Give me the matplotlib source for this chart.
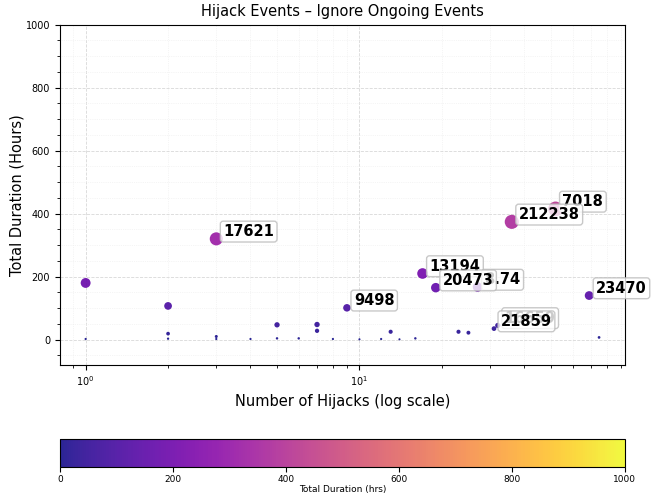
import numpy as np
import matplotlib
matplotlib.use("Agg")
import matplotlib.pyplot as plt

# hijack count per prefix and total hijack duration (hours)
n_hijacks = [1, 1, 2, 2, 2, 3, 3, 3, 4, 5, 5, 6, 7, 7, 8, 9, 10, 12, 13,
             14, 16, 17, 19, 23, 25, 27, 31, 32, 36, 52, 69, 75]
duration = [180, 2, 107, 19, 3, 320, 10, 2, 2, 47, 4, 4, 48, 28, 2, 101, 1,
            2, 25, 1, 4, 210, 165, 25, 22, 167, 35, 45, 374, 415, 140, 7]

# labelled points (drawn in this order, later ones on top)
label_x = [3, 9, 17, 27, 19, 52, 36, 32, 31, 69]
label_y = [320, 101, 210, 167, 165, 415, 374, 45, 35, 140]
label_txt = ["17621", "9498", "13194", "8.74", "20473", "7018", "212238",
             "16659", "21859", "23470"]

fig = plt.figure(figsize=(6.59, 4.95), dpi=100)
ax = fig.add_axes([0.091, 0.263, 0.857, 0.687])
cax = fig.add_axes([0.091, 0.0566, 0.857, 0.0566])

sizes = np.array(duration) * 0.27 + 2
sc = ax.scatter(n_hijacks, duration, c=duration, cmap="plasma",
                vmin=0, vmax=1000, s=sizes, alpha=0.88, linewidths=0,
                zorder=3)

for x, y, t in zip(label_x, label_y, label_txt):
    ax.annotate(t, (x, y), xytext=(5, 2), textcoords="offset points",
                fontsize=10.5, fontweight="bold", zorder=5,
                bbox=dict(boxstyle="round,pad=0.2", fc="white",
                          ec="#bbbbbb", alpha=0.8))

ax.set_xscale("log")
ax.set_ylim(-80, 1000)
ax.set_yticks([0, 200, 400, 600, 800, 1000])
ax.minorticks_on()
ax.grid(True, which="major", color="#d8d8d8", linestyle="--", linewidth=0.6)
ax.grid(True, which="minor", color="#ececec", linestyle=":", linewidth=0.5)
ax.tick_params(labelsize=7)
ax.set_title("Hijack Events \u2013 Ignore Ongoing Events", fontsize=10.5)
ax.set_xlabel("Number of Hijacks (log scale)", fontsize=10.5)
ax.set_ylabel("Total Duration (Hours)", fontsize=10.5, labelpad=1)

cb = fig.colorbar(sc, cax=cax, orientation="horizontal")
cb.ax.tick_params(labelsize=6.5, pad=2)
cb.set_label("Total Duration (hrs)", fontsize=6.5, labelpad=1)

fig.savefig("out.png", dpi=100)
